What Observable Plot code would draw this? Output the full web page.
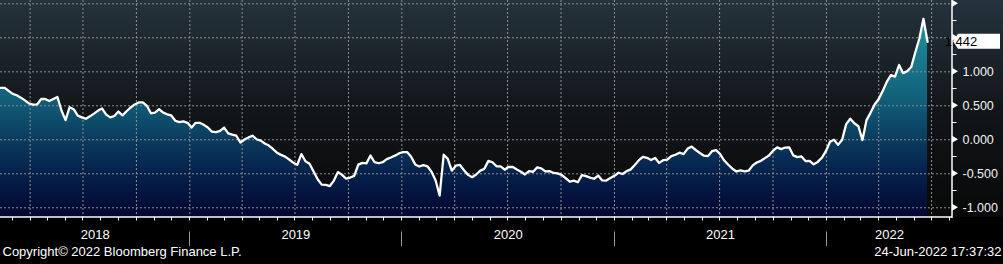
<!DOCTYPE html>
<html><head><meta charset="utf-8">
<script src="https://cdn.jsdelivr.net/npm/d3@7"></script>
<script src="https://cdn.jsdelivr.net/npm/@observablehq/plot@0.6"></script>
<style>html,body{margin:0;padding:0;background:#000;overflow:hidden;} #chart svg{display:block;}</style>
</head><body><div id="chart"></div>
<script>
// ---- data (weekly observations, Fridays) ----
const startDate = "2018-02-09";
const values = [
  0.765, 0.765, 0.72, 0.675, 0.655, 0.62, 0.58, 0.535, 0.517, 0.52,
  0.60, 0.60, 0.57, 0.60, 0.63, 0.431, 0.29, 0.48, 0.45, 0.355,
  0.33, 0.31, 0.345, 0.385, 0.43, 0.46, 0.37, 0.33, 0.35, 0.415,
  0.36, 0.42, 0.475, 0.52, 0.55, 0.55, 0.50, 0.39, 0.40, 0.45,
  0.40, 0.375, 0.358, 0.28, 0.26, 0.27, 0.25, 0.18, 0.25, 0.25,
  0.22, 0.18, 0.12, 0.114, 0.13, 0.18, 0.095, 0.075, 0.06, -0.04,
  0.004, 0.035, 0.06, 0.008, -0.013, -0.055, -0.085, -0.135, -0.19, -0.222,
  -0.248, -0.29, -0.337, -0.367, -0.21, -0.315, -0.353, -0.466, -0.58, -0.66,
  -0.664, -0.68, -0.60, -0.475, -0.515, -0.57, -0.555, -0.53, -0.366, -0.34,
  -0.347, -0.232, -0.33, -0.345, -0.33, -0.285, -0.26, -0.233, -0.20, -0.18,
  -0.18, -0.25, -0.363, -0.393, -0.373, -0.39, -0.47, -0.595, -0.82, -0.22,
  -0.28, -0.454, -0.38, -0.37, -0.448, -0.516, -0.55, -0.51, -0.453, -0.427,
  -0.31, -0.33, -0.39, -0.39, -0.44, -0.397, -0.40, -0.436, -0.47, -0.51,
  -0.46, -0.47, -0.406, -0.42, -0.465, -0.46, -0.488, -0.495, -0.515, -0.565,
  -0.615, -0.60, -0.624, -0.52, -0.535, -0.557, -0.573, -0.526, -0.598, -0.60,
  -0.562, -0.53, -0.485, -0.503, -0.46, -0.435, -0.37, -0.30, -0.25, -0.265,
  -0.297, -0.268, -0.34, -0.30, -0.29, -0.24, -0.22, -0.19, -0.21, -0.13,
  -0.10, -0.15, -0.194, -0.234, -0.24, -0.167, -0.153, -0.21, -0.305, -0.367,
  -0.425, -0.466, -0.451, -0.466, -0.455, -0.377, -0.334, -0.31, -0.27, -0.23,
  -0.162, -0.112, -0.137, -0.114, -0.112, -0.23, -0.255, -0.245, -0.313, -0.31,
  -0.36, -0.325, -0.265, -0.168, -0.03, 0.0, -0.075, 0.0, 0.23, 0.31,
  0.243, 0.20, -0.005, 0.29, 0.40, 0.52, 0.60, 0.72, 0.855, 0.95,
  0.93, 1.10, 0.98, 1.01, 1.07, 1.288, 1.49, 1.78, 1.442
];
const xDomain = ["2018-02-09", "2022-08-06"];
const yDomain = [-1.143, 2.049];
const yGridValues = [-1, -0.5, 0, 0.5, 1, 1.5, 2];
const yMinorValues = [-0.75, -0.25, 0.25, 0.75, 1.25, 1.75];
const yLabelValues = [1, 0.5, 0, -0.5, -1];
const yLabels = ["1.000", "0.500", "0.000", "-0.500", "-1.000"];
const years = ["2018", "2019", "2020", "2021", "2022"];
const lastValue = 1.442;
const lastLabel = "1.442";
const copyright = "Copyright\u00A9 2022 Bloomberg Finance L.P.";
const timestamp = "24-Jun-2022 17:37:32";

// ---- derived tables ----
const start = new Date(startDate);
const data = values.map((v, i) => ({date: d3.utcDay.offset(start, 7 * i), value: v}));
const x0 = new Date(xDomain[0]), x1 = new Date(xDomain[1]);
const months = d3.utcMonth.range(x0, x1);
const quarters = months.filter(d => d.getUTCMonth() % 3 === 0);
const yearStarts = years.map(y => new Date(`${y}-01-01`));
const yearMids = years.map((y, i) => {
  const a = Math.max(+yearStarts[i], +x0);
  const b = Math.min(+new Date(`${+y + 1}-01-01`), +x1);
  return {label: y, date: new Date((a + b) / 2)};
});
const labelRows = yLabelValues.map((v, i) => ({v, t: yLabels[i]}));
const FONT = "'Liberation Sans', Arial, sans-serif";

function background(index, scales, vals, dims) {
  const g = d3.create("svg:g");
  const defs = g.append("defs");
  const plotBottom = dims.height - dims.marginBottom;
  const bg = defs.append("linearGradient").attr("id", "bgGrad")
    .attr("gradientUnits", "userSpaceOnUse").attr("x1", 0).attr("x2", 0)
    .attr("y1", dims.marginTop).attr("y2", plotBottom);
  [[0, "#25333d"], [0.5, "#121619"], [1, "#080808"]].forEach(([o, c]) =>
    bg.append("stop").attr("offset", o).attr("stop-color", c));
  const ag = defs.append("linearGradient").attr("id", "areaGrad")
    .attr("gradientUnits", "userSpaceOnUse").attr("x1", 0).attr("x2", 0)
    .attr("y1", dims.marginTop).attr("y2", plotBottom);
  [[0, "#2097a5"], [0.2, "#1a8494"], [0.45, "#12607a"], [0.65, "#0a3a5e"], [0.8, "#05214b"], [1, "#010630"]]
    .forEach(([o, c]) => ag.append("stop").attr("offset", o).attr("stop-color", c));
  g.append("rect").attr("x", 0).attr("y", 0).attr("width", dims.width).attr("height", dims.height).attr("fill", "#000");
  g.append("rect").attr("x", 0).attr("y", 0).attr("width", dims.width).attr("height", plotBottom).attr("fill", "url(#bgGrad)");
  return g.node();
}

function decorations(index, scales, vals, dims) {
  const {x, y} = scales;
  const g = d3.create("svg:g");
  const right = dims.width - dims.marginRight;
  const bottom = dims.height - dims.marginBottom;
  // axis lines
  g.append("line").attr("x1", right).attr("x2", right).attr("y1", 0).attr("y2", bottom + 1)
    .attr("stroke", "#fff").attr("stroke-width", 1.5);
  g.append("line").attr("x1", 0).attr("x2", right).attr("y1", bottom).attr("y2", bottom)
    .attr("stroke", "#fff").attr("stroke-width", 1.5);
  // monthly ticks
  for (const m of months) {
    const xm = Math.round(x(m)) + 0.5;
    g.append("line").attr("x1", xm).attr("x2", xm).attr("y1", bottom).attr("y2", bottom + 3.5)
      .attr("stroke", "#fff").attr("stroke-width", 1);
  }
  // year separators
  for (const d of yearStarts) {
    if (d < x0) continue;
    const xs = Math.round(x(d)) + 0.5;
    g.append("line").attr("x1", xs).attr("x2", xs).attr("y1", 231.5).attr("y2", 246)
      .attr("stroke", "#9a9a9a").attr("stroke-width", 1);
  }
  // right axis ticks
  for (const v of yGridValues) {
    const yy = y(v);
    g.append("path").attr("d", `M${right},${yy - 3.5}L${right + 6},${yy}L${right},${yy + 3.5}Z`).attr("fill", "#fff");
  }
  for (const v of yMinorValues) {
    const yy = Math.round(y(v)) + 0.5;
    g.append("line").attr("x1", right).attr("x2", right + 4.5).attr("y1", yy).attr("y2", yy)
      .attr("stroke", "#fff").attr("stroke-width", 1);
  }
  // last value badge
  const yv = y(lastValue);
  g.append("path").attr("d", `M${right + 1},${yv}L${right + 6},${yv - 7.5}L1000,${yv - 7.5}L1000,${yv + 7.5}L${right + 6},${yv + 7.5}Z`)
    .attr("fill", "#fff");
  g.append("text").attr("x", right + 9).attr("y", yv).attr("dy", "0.36em")
    .attr("fill", "#000").attr("font-size", 13).attr("font-family", FONT).text(lastLabel);
  return g.node();
}

const chart = Plot.plot({
  width: 1003,
  height: 264,
  marginLeft: 0,
  marginRight: 51,
  marginTop: 0,
  marginBottom: 47,
  style: {background: "#000", fontFamily: FONT, fontSize: "13px", color: "#fff", overflow: "visible"},
  x: {type: "utc", domain: [x0, x1], axis: null},
  y: {domain: yDomain, axis: null},
  marks: [
    background,
    Plot.areaY(data, {x: "date", y1: () => yDomain[0], y2: "value", fill: "url(#areaGrad)"}),
    Plot.ruleY(yGridValues, {stroke: "#8f8f8f", strokeWidth: 1, strokeDasharray: "2,2"}),
    Plot.ruleX(quarters, {stroke: "#8f8f8f", strokeWidth: 1, strokeDasharray: "2,2"}),
    Plot.lineY(data, {x: "date", y: "value", stroke: "#fff", strokeWidth: 2.3, strokeLinejoin: "round"}),
    decorations,
    Plot.text(labelRows, {x: () => x1, y: "v", text: "t", dx: 10, textAnchor: "start", fill: "#f2f2f2", fontSize: 12.5}),
    Plot.text(yearMids, {x: "date", text: "label", frameAnchor: "bottom", dy: 21.5, fill: "#fff", fontSize: 13}),
    Plot.text([copyright], {text: d => d, frameAnchor: "bottom-left", dx: 2, dy: 38.5, textAnchor: "start", fill: "#fff", fontSize: 13}),
    Plot.text([timestamp], {text: d => d, frameAnchor: "bottom-right", dx: 49, dy: 38.5, textAnchor: "end", fill: "#fff", fontSize: 13})
  ]
});
document.getElementById("chart").appendChild(chart);
</script>
</body></html>
